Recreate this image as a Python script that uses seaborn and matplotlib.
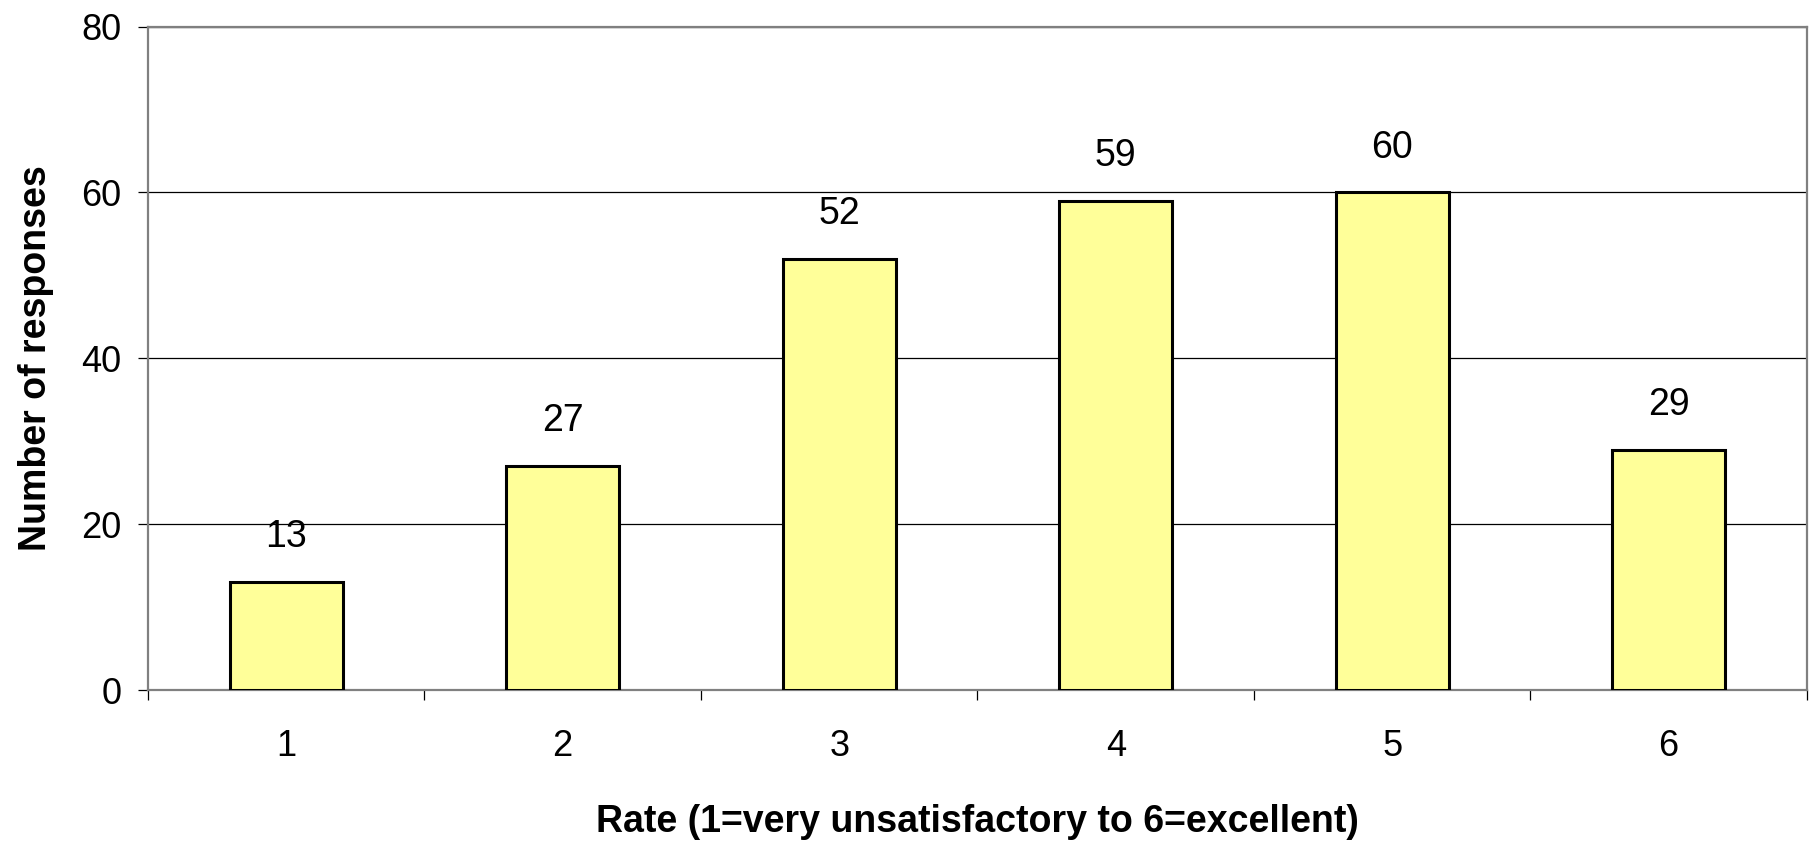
import pandas as pd
import seaborn as sns
import matplotlib.pyplot as plt
from matplotlib.ticker import FixedLocator

# Chart data
rates = ["1", "2", "3", "4", "5", "6"]
responses = [13, 27, 52, 59, 60, 29]
y_ticks = [0, 20, 40, 60, 80]

df = pd.DataFrame({"rate": rates, "responses": responses})

sns.set_style("white")
plt.rcParams["font.family"] = ["Liberation Sans", "DejaVu Sans"]
plt.rcParams["text.color"] = "black"
plt.rcParams["axes.labelcolor"] = "black"
plt.rcParams["xtick.color"] = "black"
plt.rcParams["ytick.color"] = "black"

fig = plt.figure(figsize=(18.16, 8.42), dpi=100)
ax = fig.add_axes([0.0815, 0.1805, 0.9135, 0.788])

sns.barplot(data=df, x="rate", y="responses", color="#FFFF99",
            edgecolor="black", linewidth=2.2, width=0.41, saturation=1,
            ax=ax, zorder=3)

# Value labels above the bars
for i, v in enumerate(responses):
    ax.annotate(str(v), (i, v), xytext=(0, 25), textcoords="offset points",
                ha="center", va="baseline", fontsize=27, color="black")

ax.set_ylim(0, 80)
ax.set_xlim(-0.5, len(rates) - 0.5)
ax.set_yticks(y_ticks)
ax.yaxis.grid(True, color="black", linewidth=0.9, zorder=0)
ax.set_axisbelow(True)

# Tick marks between the categories
ax.xaxis.set_minor_locator(FixedLocator([i - 0.5 for i in range(len(rates) + 1)]))
ax.tick_params(axis="x", which="major", length=0, pad=28, labelsize=26,
               labelcolor="black")
ax.tick_params(axis="x", which="minor", length=7, width=0.9, color="black",
               direction="out", bottom=True)
ax.tick_params(axis="y", which="major", length=7, width=0.9, color="black",
               direction="out", left=True, pad=12, labelsize=26,
               labelcolor="black")

for s in ax.spines.values():
    s.set_visible(True)
    s.set_color("#808080")
    s.set_linewidth(1.6)

ax.set_xlabel("Rate (1=very unsatisfactory to 6=excellent)", fontsize=27,
              fontweight="bold", labelpad=29, color="black")
ax.set_ylabel("Number of responses", fontsize=27, fontweight="bold",
              labelpad=20, color="black")

fig.savefig("out.png", dpi=100)
